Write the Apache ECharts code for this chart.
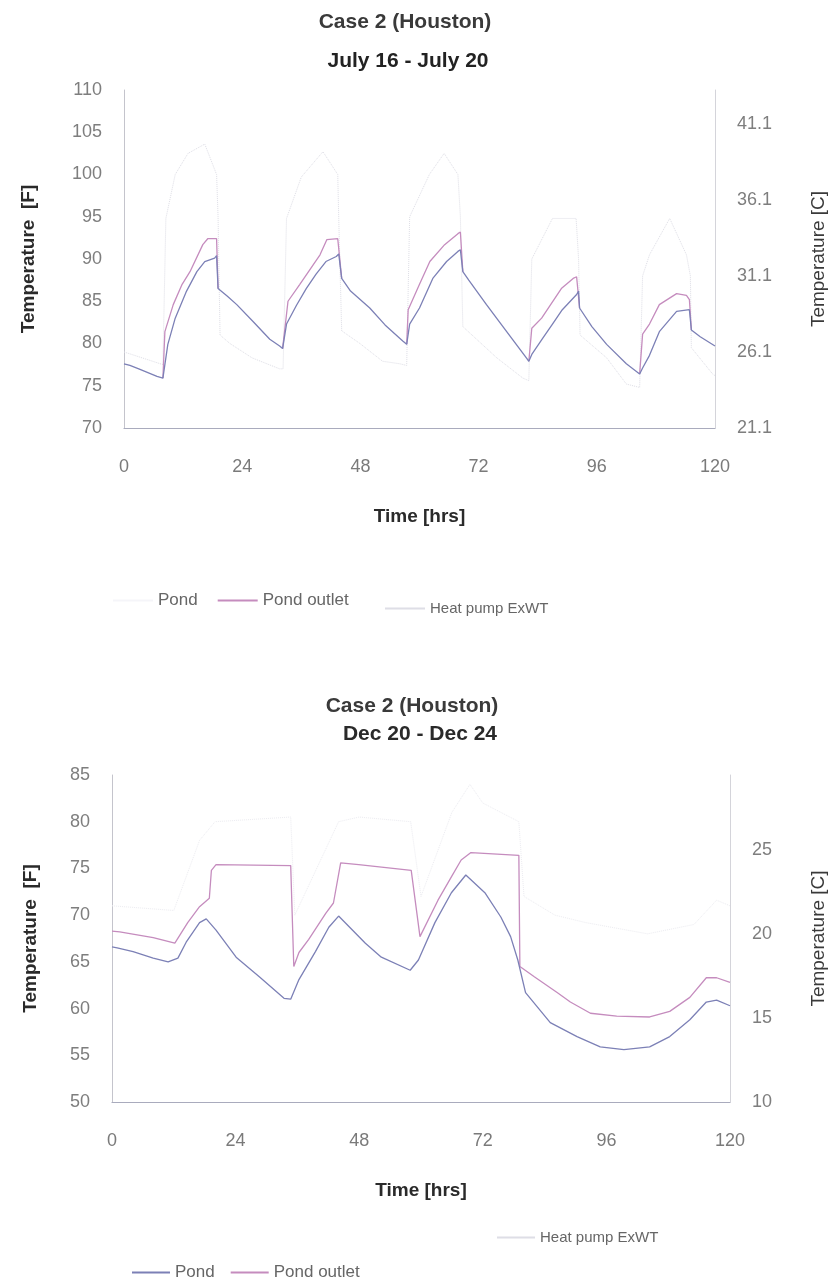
<!DOCTYPE html>
<html>
<head>
<meta charset="utf-8">
<script src="https://cdn.jsdelivr.net/npm/echarts@6/dist/echarts.min.js"></script>
<style>
  html, body { margin: 0; padding: 0; background: #ffffff; }
  #chart { width: 836px; height: 1285px; }
</style>
</head>
<body>
<div id="chart"></div>
<script>
// ---- Case 2 (Houston), July 16 - July 20 : hours and temperatures [F] ----
const julyPondHours = [0, 1.2, 3, 6.7, 7.9, 8.9, 10.4, 12.7, 14.8, 16.4, 18.4, 18.8, 19.1, 21, 22.9, 26.2, 29.6, 31.6, 32.2,
  33, 35, 37, 39, 41, 43.1, 43.6, 44.2, 46, 49.9, 53, 56.6, 57.4,
  58, 60, 62.7, 65.5, 67.8, 68.3, 68.8, 70, 73.6, 77.7, 81.7, 82.2,
  82.8, 85, 87, 89, 91.9, 92.3, 92.5, 95, 98, 102, 104.7,
  105.3, 106.7, 108.7, 112.2, 114.8, 115.2, 117, 120];
const julyPondTemp = [77.6, 77.4, 77.0, 76.1, 75.9, 79.9, 83.0, 86.2, 88.5, 89.7, 90.1, 90.4, 86.5, 85.6, 84.6, 82.6, 80.5, 79.7, 79.4,
  82.3, 84.5, 86.5, 88.2, 89.7, 90.3, 90.6, 87.7, 86.2, 84.2, 82.2, 80.3, 79.9,
  82.3, 84.2, 87.7, 89.7, 90.9, 91.1, 88.5, 87.5, 84.6, 81.4, 78.3, 77.9,
  78.7, 80.6, 82.3, 84.0, 85.8, 86.2, 84.2, 82.0, 79.9, 77.6, 76.4,
  77.1, 78.6, 81.4, 83.8, 84.0, 81.6, 80.8, 79.7];

const julyOutletHours = [7.9, 8.3, 10, 11.8, 13.4, 16, 17, 18.8, 19.1, null,
  32.2, 33.3, 35.7, 39.8, 41.2, 43.4, 43.6, 44.2, null,
  57.4, 57.7, 60, 62.1, 65.1, 67.8, 68.3, 68.8, null,
  82.2, 82.8, 84.8, 88.8, 91.2, 91.9, 92.3, 92.5, null,
  104.7, 105.3, 106.7, 108.7, 112.2, 114.2, 114.8, 115.2];
const julyOutletTemp = [75.9, 81.4, 84.6, 87.0, 88.5, 91.7, 92.4, 92.4, 86.5, null,
  79.4, 85.0, 87.0, 90.5, 92.3, 92.4, 92.4, 87.7, null,
  79.9, 84.0, 87.0, 89.7, 91.7, 93.0, 93.2, 88.5, null,
  77.9, 81.8, 83.0, 86.5, 87.7, 87.9, 87.9, 84.2, null,
  76.4, 81.1, 82.3, 84.6, 85.9, 85.7, 85.2, 81.6];

const julyExwtHours = [0, 7.9, 8.5, 10.4, 13, 16.4, 18.8, 19.1, 19.5, 21.5, 26, 31.6, 32.3,
  33, 36, 40.4, 43.4, 43.6, 44.2, 47.9, 52.5, 56, 57.4,
  58, 62, 65, 67.8, 68.3, 68.8, 75.7, 81, 82.2,
  82.8, 87, 91.8, 92.3, 92.6, 98, 102, 104.7,
  105.3, 106.7, 110.8, 114.2, 115, 115.2, 119.5, 120];
const julyExwtTemp = [79, 77.5, 94.8, 100, 102.5, 103.6, 100, 95, 81, 80, 78.3, 77, 77,
  94.8, 99.7, 102.7, 100, 94.8, 81.5, 80, 77.9, 77.6, 77.4,
  95, 100, 102.5, 100, 95, 82, 78.3, 75.9, 75.6,
  90, 94.8, 94.8, 90, 81, 78.3, 75.2, 74.8,
  88, 90.5, 94.8, 90.5, 88, 79.5, 76.4, 76.2];

// ---- Case 2 (Houston), Dec 20 - Dec 24 : hours and temperatures [F] ----
const decPondHours = [0, 1, 4.1, 8, 10.9, 12.8, 14.4, 17, 18.3, 20.2, 24.1, 28.6, 33.4, 34.7,
  36.3, 39.5, 42.1, 44, 49.2, 52.3, 57.9, 59.5, 62.7, 65.9, 68.7, 72.4, 75.5, 77.4, 78.8,
  80.3, 85.1, 90.3, 94.8, 99.4, 104.4, 108.3, 112.2, 115.4, 117.4, 120];
const decPondTemp = [66.6, 66.5, 66.1, 65.4, 65.0, 65.4, 67.1, 69.2, 69.6, 68.4, 65.5, 63.4, 61.1, 61.0,
  63.1, 66.1, 68.7, 69.9, 67.0, 65.5, 64.1, 65.2, 69.2, 72.4, 74.3, 72.4, 69.8, 67.7, 65.2,
  61.7, 58.5, 57.0, 55.9, 55.6, 55.9, 57.0, 58.8, 60.7, 60.9, 60.3];

const decOutletHours = [0, 1.5, 8, 12.2, 14.7, 17, 18.9, 19.3, 20.2, 34.7,
  35.3, 36.3, 38.2, 41.5, 43, 44.4, 47.9, 58.1,
  59.8, 63.3, 65.9, 67.8, 69.7, 79.0,
  79.2, 82, 86.5, 89, 92.9, 98, 104.4, 108.3, 112.2, 115.4, 117.4, 120];
const decOutletTemp = [68.3, 68.2, 67.6, 67.0, 69.2, 70.9, 71.8, 74.8, 75.4, 75.3,
  64.5, 66.0, 67.4, 70.2, 71.3, 75.6, 75.4, 74.8,
  67.7, 71.6, 74.1, 75.9, 76.7, 76.4,
  64.5, 63.4, 61.7, 60.7, 59.5, 59.2, 59.1, 59.7, 61.2, 63.3, 63.3, 62.8];

const decExwtHours = [0, 12, 17, 20, 34.7, 35.5, 44, 48, 58, 60, 66, 69.5, 72, 79, 80, 86, 92, 104, 113, 117.4, 120];
const decExwtTemp = [71, 70.5, 78, 80, 80.5, 70, 80, 80.5, 80, 72, 81, 84, 82, 80, 72, 70, 69.2, 68, 69, 71.6, 71];

// ---- axis tick labels ----
const hourTicks = [0, 24, 48, 72, 96, 120];
const julyFahrenheitTicks = [70, 75, 80, 85, 90, 95, 100, 105, 110];
const julyCelsiusTicksF = [70, 79, 88, 97, 106];   // 21.1, 26.1, 31.1, 36.1, 41.1 C
const decFahrenheitTicks = [50, 55, 60, 65, 70, 75, 80, 85];
const decCelsiusTicksF = [50, 59, 68, 77];          // 10, 15, 20, 25 C

const seriesNames = ['Pond', 'Pond outlet', 'Heat pump ExWT'];

const zip = (xs, ys) => xs.map((x, i) => (x === null ? [null, null] : [x, ys[i]]));
const toC = f => (f - 32) / 1.8;

const COL_POND = '#7c80b6';
const COL_OUTLET = '#c58cbe';
const COL_EXWT_JULY = '#dedee6';
const COL_EXWT_DEC = '#ececf1';
const FONT = 'Liberation Sans, Arial, sans-serif';

function xAxisFor(gridIndex) {
  return {
    type: 'value', gridIndex, min: 0, max: 120, interval: 24,
    name: 'Time [hrs]', nameLocation: 'middle', nameGap: 79,
    nameTextStyle: { fontFamily: FONT, fontSize: 19, fontWeight: 'bold', color: '#2a2a2a' },
    axisLine: { show: true, lineStyle: { color: '#a9abbd', width: 1.2 } },
    axisTick: { show: false },
    splitLine: { show: false },
    axisLabel: { margin: 30, fontFamily: FONT, fontSize: 18, color: '#7a7a7a',
                 customValues: hourTicks }
  };
}

function leftAxisFor(gridIndex, min, max, ticks, gap) {
  return {
    type: 'value', gridIndex, min, max, position: 'left',
    name: 'Temperature  [F]', nameLocation: 'middle', nameGap: gap, nameRotate: 90,
    nameTextStyle: { fontFamily: FONT, fontSize: 19, fontWeight: 'bold', color: '#2a2a2a' },
    axisLine: { show: true, lineStyle: { color: '#c4c4cc', width: 1 } },
    axisTick: { show: false },
    splitLine: { show: false },
    axisLabel: { margin: 22, fontFamily: FONT, fontSize: 18, color: '#7e7e7e', customValues: ticks }
  };
}

function rightAxisFor(gridIndex, min, max, ticksF, digits, gap) {
  return {
    type: 'value', gridIndex, min, max, position: 'right',
    name: 'Temperature [C]', nameLocation: 'middle', nameGap: gap, nameRotate: 90,
    nameTextStyle: { fontFamily: FONT, fontSize: 19, color: '#3a3a3a' },
    axisLine: { show: true, lineStyle: { color: '#d4d4da', width: 1 } },
    axisTick: { show: false },
    splitLine: { show: false },
    axisLabel: { margin: 22, fontFamily: FONT, fontSize: 18, color: '#7e7e7e', customValues: ticksF,
                 formatter: v => toC(v).toFixed(digits) }
  };
}

function line(name, data, xi, yi, color, extra) {
  return Object.assign({
    name, type: 'line', xAxisIndex: xi, yAxisIndex: yi, data,
    symbol: 'none', connectNulls: false, silent: true,
    lineStyle: { color, width: 1.3 }, itemStyle: { color }
  }, extra || {});
}

const dotted = color => ({ lineStyle: { color, width: 1, type: 'dotted' }, itemStyle: { color } });

const legendBase = {
  icon: 'rect', itemHeight: 2, padding: 0,
  textStyle: { fontFamily: FONT, fontSize: 17, color: '#666' }
};

const chart = echarts.init(document.getElementById('chart'), null, { renderer: 'canvas' });

chart.setOption({
  animation: false,
  backgroundColor: '#ffffff',
  grid: [
    { left: 124, top: 90, width: 592, height: 338 },
    { left: 112, top: 775, width: 622, height: 327 }
  ],
  xAxis: [xAxisFor(0), xAxisFor(1)],
  yAxis: [
    leftAxisFor(0, 70, 110, julyFahrenheitTicks, 86),
    rightAxisFor(0, 70, 110, julyCelsiusTicksF, 1, 94),
    leftAxisFor(1, 50, 85, decFahrenheitTicks, 72),
    rightAxisFor(1, 50, 85, decCelsiusTicksF, 0, 79)
  ],
  legend: [
    Object.assign({}, legendBase, { left: 113, top: 592, itemWidth: 40, itemGap: 20,
      data: [{ name: seriesNames[0], itemStyle: { opacity: 0.08 } }, seriesNames[1]] }),
    Object.assign({}, legendBase, { left: 385, top: 601, itemWidth: 40,
      textStyle: { fontFamily: FONT, fontSize: 15, color: '#666' },
      data: [seriesNames[2]] }),
    Object.assign({}, legendBase, { left: 132, top: 1264, itemWidth: 38, itemGap: 16,
      data: [seriesNames[0], seriesNames[1]] }),
    Object.assign({}, legendBase, { left: 497, top: 1230, itemWidth: 38,
      textStyle: { fontFamily: FONT, fontSize: 15, color: '#666' },
      data: [seriesNames[2]] })
  ],
  graphic: [
    { type: 'text', x: 405, y: 22, style: { text: 'Case 2 (Houston)', textAlign: 'center', textVerticalAlign: 'middle',
      font: 'bold 21px ' + FONT, fill: '#3a3a3a' } },
    { type: 'text', x: 408, y: 61, style: { text: 'July 16 - July 20', textAlign: 'center', textVerticalAlign: 'middle',
      font: 'bold 21px ' + FONT, fill: '#222' } },
    { type: 'text', x: 412, y: 706, style: { text: 'Case 2 (Houston)', textAlign: 'center', textVerticalAlign: 'middle',
      font: 'bold 21px ' + FONT, fill: '#3a3a3a' } },
    { type: 'text', x: 420, y: 734, style: { text: 'Dec 20 - Dec 24', textAlign: 'center', textVerticalAlign: 'middle',
      font: 'bold 21px ' + FONT, fill: '#2a2a2a' } }
  ],
  series: [
    line(seriesNames[2], zip(julyExwtHours, julyExwtTemp), 0, 0, COL_EXWT_JULY, dotted(COL_EXWT_JULY)),
    line(seriesNames[1], zip(julyOutletHours, julyOutletTemp), 0, 0, COL_OUTLET),
    line(seriesNames[0], zip(julyPondHours, julyPondTemp), 0, 0, COL_POND),
    line(seriesNames[2], zip(decExwtHours, decExwtTemp), 1, 2, COL_EXWT_DEC, dotted(COL_EXWT_DEC)),
    line(seriesNames[1], zip(decOutletHours, decOutletTemp), 1, 2, COL_OUTLET),
    line(seriesNames[0], zip(decPondHours, decPondTemp), 1, 2, COL_POND)
  ]
});
</script>
</body>
</html>
